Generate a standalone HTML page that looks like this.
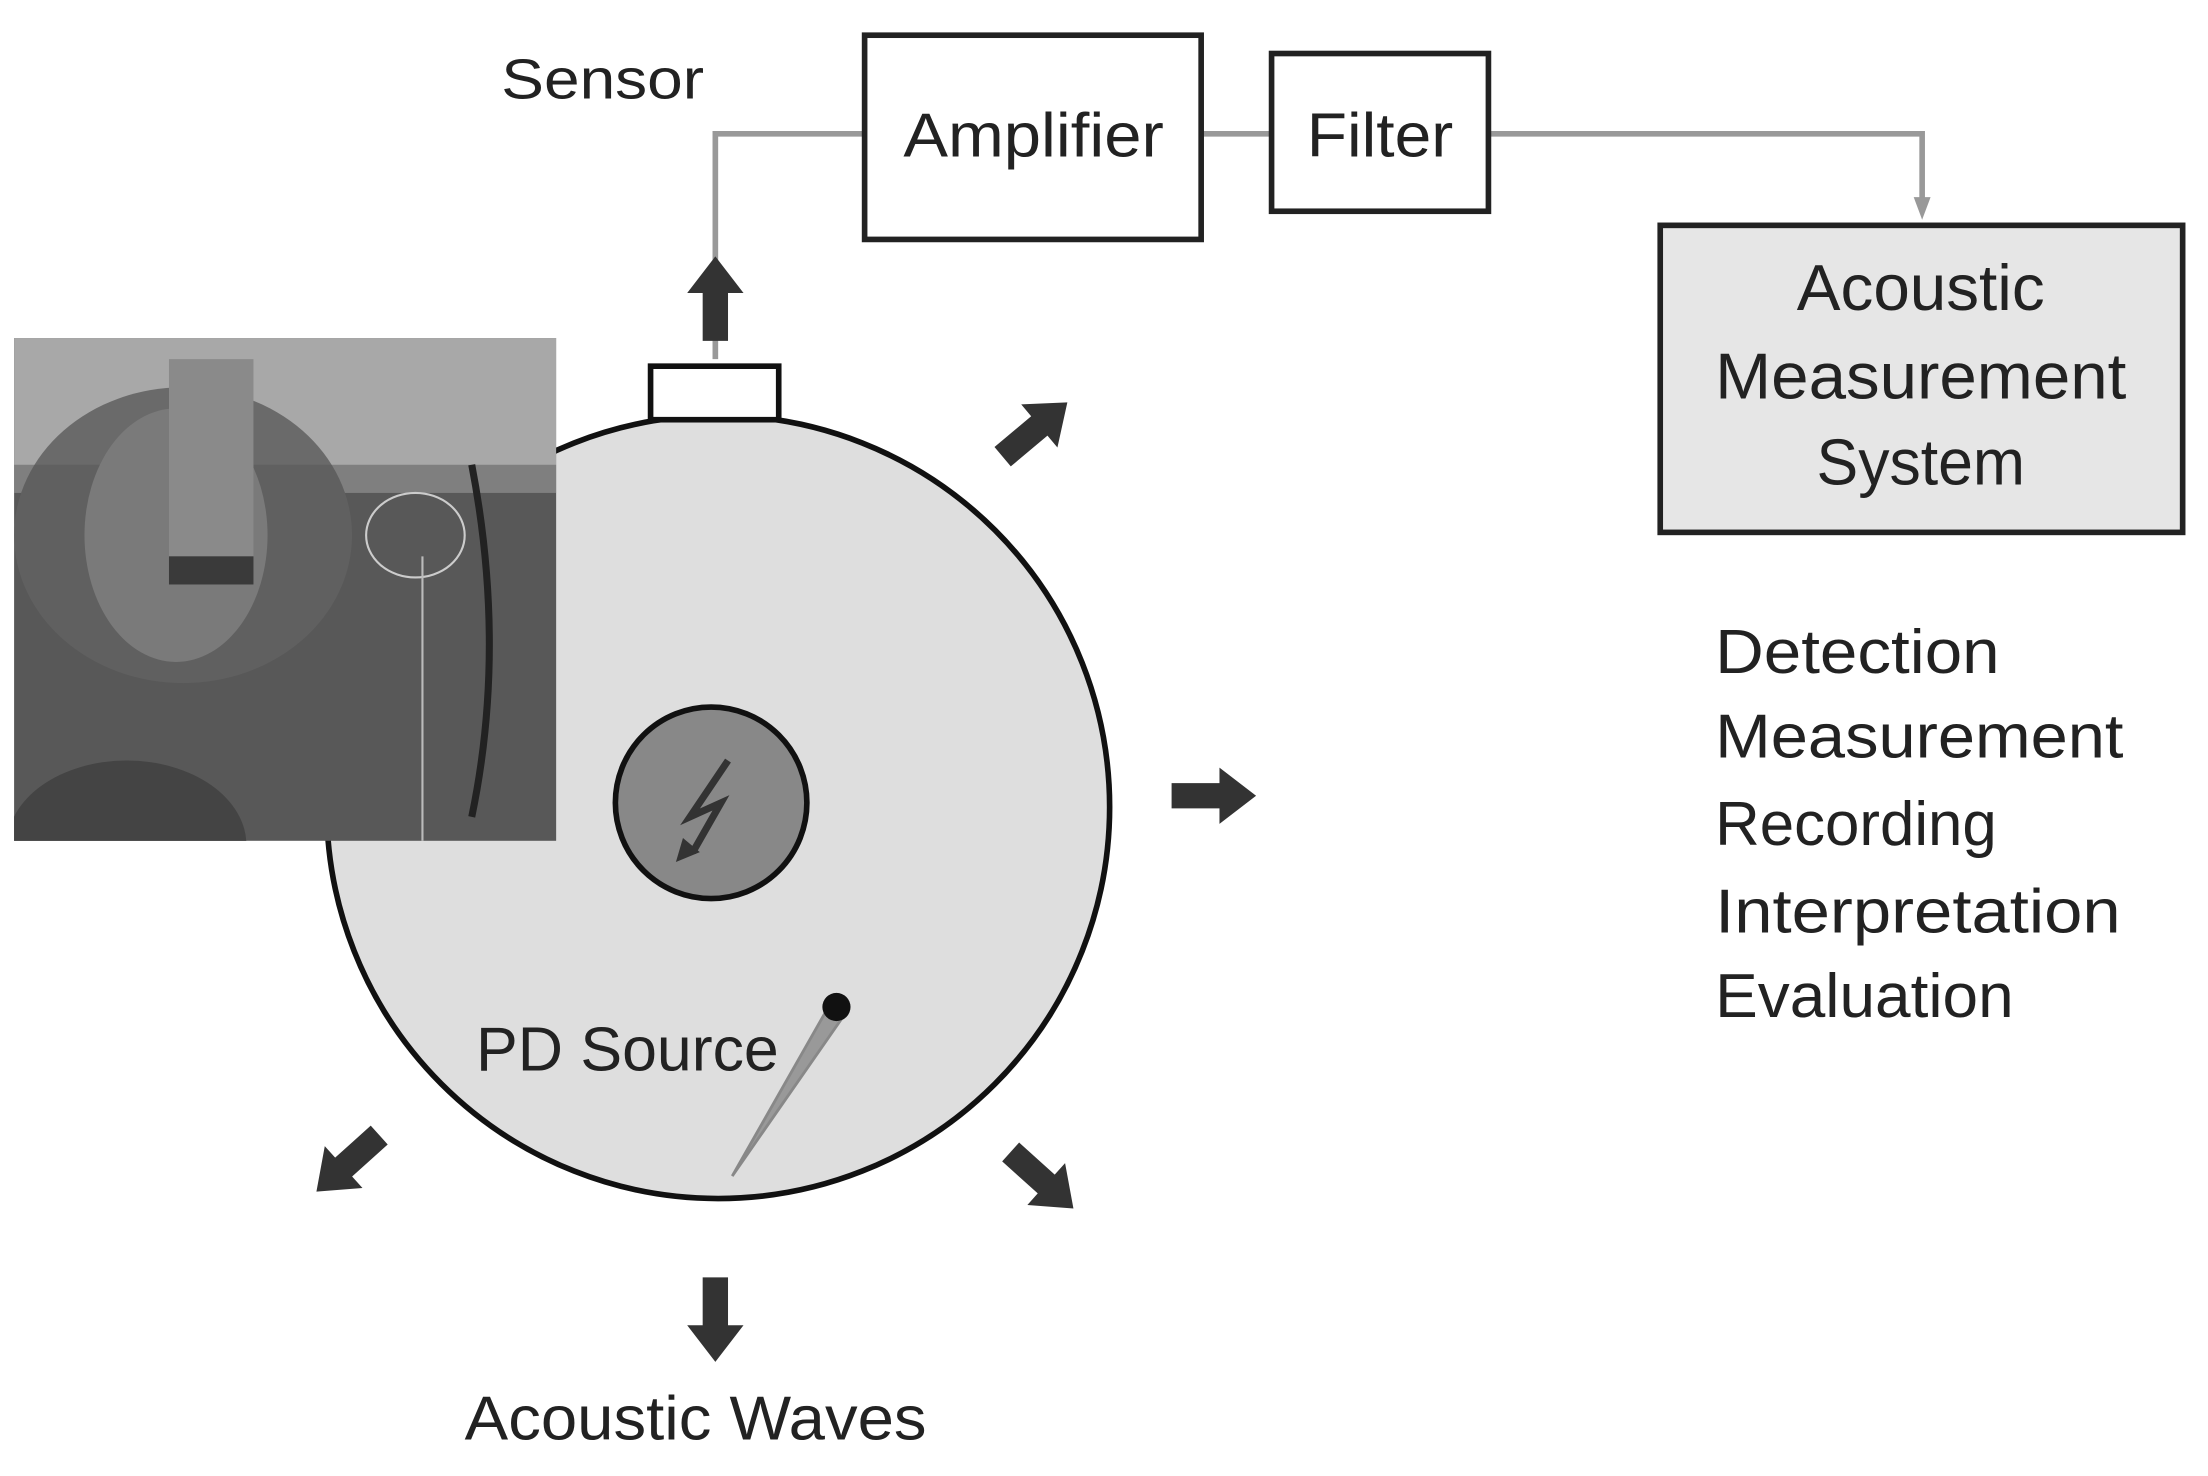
<!DOCTYPE html>
<html><head><meta charset="utf-8"><style>
html,body{margin:0;padding:0;background:#fff;width:2208px;height:1476px;overflow:hidden}
svg{display:block}
text{font-family:"Liberation Sans",sans-serif;fill:#222}
</style></head><body>
<svg width="2208" height="1476" viewBox="0 0 1568 1048" preserveAspectRatio="none">
<defs>
<g id="arr"><path d="M-30,-9 L4,-9 L4,-20 L30,0 L4,20 L4,9 L-30,9 Z" fill="#333"/></g>
<clipPath id="pc"><rect x="10" y="240" width="385" height="357"/></clipPath>
</defs>
<!-- connectors -->
<path d="M508,255 L508,95 L613,95" fill="none" stroke="#999" stroke-width="4"/>
<path d="M853,95 L902,95" stroke="#999" stroke-width="4"/>
<path d="M1058,95 L1365,95 L1365,145" fill="none" stroke="#999" stroke-width="4"/>
<path d="M1359,140 L1371,140 L1365,156 Z" fill="#999"/>
<!-- boxes -->
<rect x="614" y="25" width="239" height="145" fill="#fff" stroke="#222" stroke-width="4"/>
<text x="734" y="111" font-size="44" text-anchor="middle" textLength="185" lengthAdjust="spacingAndGlyphs">Amplifier</text>
<rect x="903" y="38" width="154" height="112" fill="#fff" stroke="#222" stroke-width="4"/>
<text x="980" y="111" font-size="44" text-anchor="middle" textLength="104" lengthAdjust="spacingAndGlyphs">Filter</text>
<rect x="1179" y="160" width="371" height="218" fill="#e6e6e6" stroke="#222" stroke-width="4"/>
<text x="1364" y="220" font-size="46" text-anchor="middle" textLength="176" lengthAdjust="spacingAndGlyphs">Acoustic</text>
<text x="1364" y="283" font-size="46" text-anchor="middle" textLength="292" lengthAdjust="spacingAndGlyphs">Measurement</text>
<text x="1364" y="344" font-size="46" text-anchor="middle" textLength="148" lengthAdjust="spacingAndGlyphs">System</text>
<text x="356" y="70" font-size="40" textLength="144" lengthAdjust="spacingAndGlyphs">Sensor</text>
<g font-size="44">
<text x="1218" y="478" textLength="202" lengthAdjust="spacingAndGlyphs">Detection</text>
<text x="1218" y="538" textLength="290" lengthAdjust="spacingAndGlyphs">Measurement</text>
<text x="1218" y="600" textLength="200" lengthAdjust="spacingAndGlyphs">Recording</text>
<text x="1218" y="662" textLength="288" lengthAdjust="spacingAndGlyphs">Interpretation</text>
<text x="1218" y="722" textLength="212" lengthAdjust="spacingAndGlyphs">Evaluation</text>
</g>
<!-- main circle -->
<circle cx="510" cy="573" r="278" fill="#dedede" stroke="#111" stroke-width="4"/>
<rect x="462" y="260" width="91" height="38" fill="#fff" stroke="#111" stroke-width="4"/>
<!-- photo -->
<g clip-path="url(#pc)">
<rect x="10" y="240" width="385" height="357" fill="#5a5a5a"/>
<rect x="10" y="240" width="385" height="110" fill="#a8a8a8"/>
<ellipse cx="130" cy="380" rx="120" ry="105" fill="#6a6a6a"/>
<rect x="10" y="330" width="385" height="267" fill="#555" opacity="0.5"/>
<ellipse cx="125" cy="380" rx="65" ry="90" fill="#7a7a7a"/>
<rect x="120" y="255" width="60" height="160" fill="#8a8a8a"/>
<rect x="120" y="395" width="60" height="20" fill="#3a3a3a"/>
<ellipse cx="90" cy="600" rx="85" ry="60" fill="#444"/>
<path d="M335,330 Q360,460 335,580" stroke="#222" stroke-width="5" fill="none"/>
<ellipse cx="295" cy="380" rx="35" ry="30" fill="none" stroke="#ccc" stroke-width="1.5"/>
<path d="M300,395 L300,597" stroke="#bbb" stroke-width="1.5"/>
</g>
<!-- inner circle -->
<circle cx="505" cy="570" r="68" fill="#888" stroke="#111" stroke-width="4"/>
<path d="M517,540 L490,580 L512,570 L492,605" fill="none" stroke="#333" stroke-width="5"/>
<path d="M485,595 L480,612 L497,605" fill="#333"/>
<!-- PD source -->
<text x="338" y="760" font-size="44" textLength="215" lengthAdjust="spacingAndGlyphs">PD Source</text>
<path d="M590,712 L600,720 L520,835 Z" fill="#999" stroke="#888" stroke-width="2"/>
<circle cx="594" cy="715" r="10" fill="#111"/>
<!-- arrows -->
<use href="#arr" transform="translate(508,212) rotate(-90)"/>
<use href="#arr" transform="translate(735,305) rotate(-40)"/>
<use href="#arr" transform="translate(862,565)"/>
<use href="#arr" transform="translate(740,838) rotate(42)"/>
<use href="#arr" transform="translate(247,826) rotate(138)"/>
<use href="#arr" transform="translate(508,937) rotate(90)"/>
<text x="330" y="1022" font-size="44" textLength="328" lengthAdjust="spacingAndGlyphs">Acoustic Waves</text>
</svg>
</body></html>
